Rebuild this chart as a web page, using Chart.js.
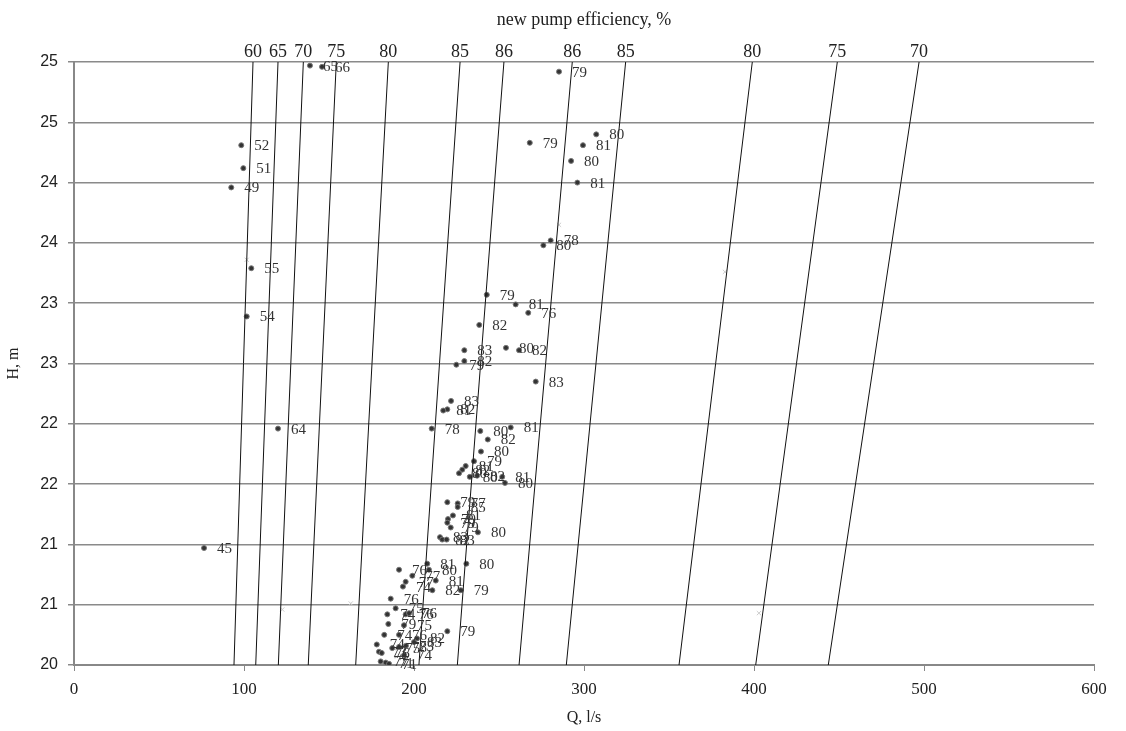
<!DOCTYPE html>
<html>
<head>
<meta charset="utf-8">
<script src="https://cdn.jsdelivr.net/npm/chart.js@4.4.1/dist/chart.umd.min.js"></script>
<style>
  html, body { margin: 0; padding: 0; background: #fff; }
  #wrap { width: 1126px; height: 731px; }
</style>
</head>
<body>
<div id="wrap"><canvas id="myChart"></canvas></div>
<script>
// efficiency lines of the new pump (Q at H=20 and at H=25)
var effLabels = ['60', '65', '70', '75', '80', '85', '86', '86', '85', '80', '75', '70']
var effBottomQ = [94.1, 106.9, 120.2, 137.8, 165.7, 202.9, 225.5, 261.8, 289.6, 355.9, 401.0, 443.7]
var effTopQ = [105.3, 120.0, 134.9, 154.3, 184.9, 227.1, 252.9, 293.1, 324.5, 399.0, 449.0, 497.1]

// measured points: flow, head, efficiency label
var pointQ = [138.8, 145.9, 285.3, 98.4, 99.6, 92.5, 104.3, 101.6, 120.0, 76.5,
  268.1, 307.2, 299.4, 292.4, 296.1, 280.4, 276.1, 242.8, 259.8, 267.2,
  238.4, 229.6, 254.1, 261.8, 229.6, 224.9, 271.6, 221.8, 219.6, 217.2,
  210.4, 239.0, 256.9, 243.4, 239.4, 235.3, 230.4, 228.4, 226.5, 232.8,
  237.1, 251.9, 253.5, 219.6, 225.7, 225.7, 222.9, 220.0, 219.6, 221.6,
  215.3, 216.6, 219.2, 237.6, 230.8, 207.8, 208.8, 191.2, 199.0, 195.1,
  193.5, 212.8, 210.8, 227.5, 186.3, 189.2, 195.1, 197.1, 184.3, 184.9,
  194.1, 191.2, 219.6, 201.8, 182.5, 178.1, 179.4, 181.0, 187.2, 191.2,
  195.3, 200.0, 180.4, 183.4, 185.3, 194.1]
var pointH = [24.97, 24.96, 24.92, 24.31, 24.12, 23.96, 23.29, 22.89, 21.96, 20.97,
  24.33, 24.40, 24.31, 24.18, 24.00, 23.52, 23.48, 23.07, 22.99, 22.92,
  22.82, 22.61, 22.63, 22.61, 22.52, 22.49, 22.35, 22.19, 22.12, 22.11,
  21.96, 21.94, 21.97, 21.87, 21.77, 21.69, 21.65, 21.62, 21.59, 21.56,
  21.57, 21.56, 21.51, 21.35, 21.34, 21.31, 21.24, 21.21, 21.18, 21.14,
  21.06, 21.04, 21.04, 21.10, 20.84, 20.84, 20.79, 20.79, 20.74, 20.69,
  20.65, 20.70, 20.62, 20.62, 20.55, 20.47, 20.42, 20.43, 20.42, 20.34,
  20.33, 20.25, 20.28, 20.22, 20.25, 20.17, 20.11, 20.10, 20.14, 20.15,
  20.16, 20.19, 20.03, 20.02, 20.01, 20.08]
var pointEff = ['65', '66', '79', '52', '51', '49', '55', '54', '64', '45',
  '79', '80', '81', '80', '81', '78', '80', '79', '81', '76',
  '82', '83', '80', '82', '82', '79', '83', '83', '82', '81',
  '78', '80', '81', '82', '80', '79', '81', '82', '80', '80',
  '82', '81', '80', '79', '77', '85', '81', '79', '79', '79',
  '83', '82', '83', '80', '80', '81', '80', '76', '77', '77',
  '74', '81', '82', '79', '76', '75', '76', '76', '74', '79',
  '75', '76', '79', '82', '74', '74', '73', '76', '75', '78',
  '73', '83', '77', '71', '71', '74']

// faint grey markers
var greyQ = [101.6, 122.5, 162.8, 285.3, 382.9, 402.9]
var greyH = [23.36, 20.46, 20.51, 23.65, 23.26, 20.43]

var serif = "'Liberation Serif', 'Times New Roman', serif"

var datasets = []
for (var i = 0; i < effLabels.length; i++) {
  datasets.push({
    type: 'line',
    label: effLabels[i],
    data: [{x: effBottomQ[i], y: 20}, {x: effTopQ[i], y: 25}],
    borderColor: '#111',
    borderWidth: 1,
    pointRadius: 0,
    isEff: true
  })
}

var pts = []
for (var i = 0; i < pointQ.length; i++) {
  pts.push({x: pointQ[i], y: pointH[i]})
}
datasets.push({
  type: 'scatter',
  label: 'points',
  data: pts,
  labels: pointEff,
  backgroundColor: '#333',
  borderColor: '#777',
  borderWidth: 1,
  pointRadius: 2.5
})

var grey = []
for (var i = 0; i < greyQ.length; i++) {
  grey.push({x: greyQ[i], y: greyH[i]})
}
datasets.push({
  type: 'scatter',
  label: 'grey',
  data: grey,
  pointStyle: 'crossRot',
  borderColor: '#ccc',
  backgroundColor: '#ccc',
  borderWidth: 1,
  pointRadius: 3
})

// draws the number next to each point, the efficiency on top of each line and the top title
var labelPlugin = {
  id: 'labelPlugin',
  afterDatasetsDraw: function(chart) {
    var ctx = chart.ctx
    var area = chart.chartArea
    ctx.save()
    chart.data.datasets.forEach(function(ds, di) {
      var meta = chart.getDatasetMeta(di)
      if (ds.isEff) {
        var top = meta.data[1]
        ctx.font = '18px ' + serif
        ctx.fillStyle = '#222'
        ctx.textAlign = 'center'
        ctx.textBaseline = 'alphabetic'
        ctx.fillText(ds.label, top.x, area.top - 5)
      } else if (ds.labels) {
        ctx.font = '15px ' + serif
        ctx.fillStyle = '#333'
        ctx.textAlign = 'left'
        ctx.textBaseline = 'middle'
        meta.data.forEach(function(el, idx) {
          ctx.fillText(ds.labels[idx], el.x + 13, el.y + 1)
        })
      }
    })
    ctx.font = '18px ' + serif
    ctx.fillStyle = '#222'
    ctx.textAlign = 'center'
    ctx.textBaseline = 'alphabetic'
    ctx.fillText('new pump efficiency, %', (area.left + area.right) / 2, 25)
    ctx.restore()
  }
}

const ctx = document.getElementById('myChart')
var myChart = new Chart(ctx, {
  data: { datasets: datasets },
  options: {
    responsive: true,
    maintainAspectRatio: false,
    animation: false,
    layout: { padding: { top: 62, right: 32, left: 0, bottom: 0 } },
    plugins: {
      legend: { display: false },
      tooltip: { enabled: false }
    },
    scales: {
      x: {
        type: 'linear',
        min: 0,
        max: 600,
        afterFit: function(s) { s.height = 66 },
        border: { color: '#888', width: 2 },
        grid: { drawOnChartArea: false, color: '#888', tickLength: 6 },
        ticks: {
          stepSize: 100,
          padding: 8,
          color: '#222',
          font: { family: serif, size: 17 }
        },
        title: {
          display: true,
          text: 'Q, l/s',
          color: '#222',
          padding: { top: 0, bottom: 4 },
          font: { family: serif, size: 16 }
        }
      },
      y: {
        type: 'linear',
        min: 20,
        max: 25,
        afterFit: function(s) { s.width = 74 },
        border: { color: '#888', width: 2 },
        grid: { color: '#8a8a8a', lineWidth: 1.5, tickLength: 6 },
        ticks: {
          stepSize: 0.5,
          padding: 10,
          color: '#222',
          font: { family: "'Liberation Sans', Arial, sans-serif", size: 16 },
          callback: function(v) { return Math.round(v) }
        },
        title: {
          display: true,
          text: 'H, m',
          color: '#222',
          padding: { top: 4, bottom: 0 },
          font: { family: serif, size: 16 }
        }
      }
    }
  },
  plugins: [labelPlugin]
})
</script>
</body>
</html>
